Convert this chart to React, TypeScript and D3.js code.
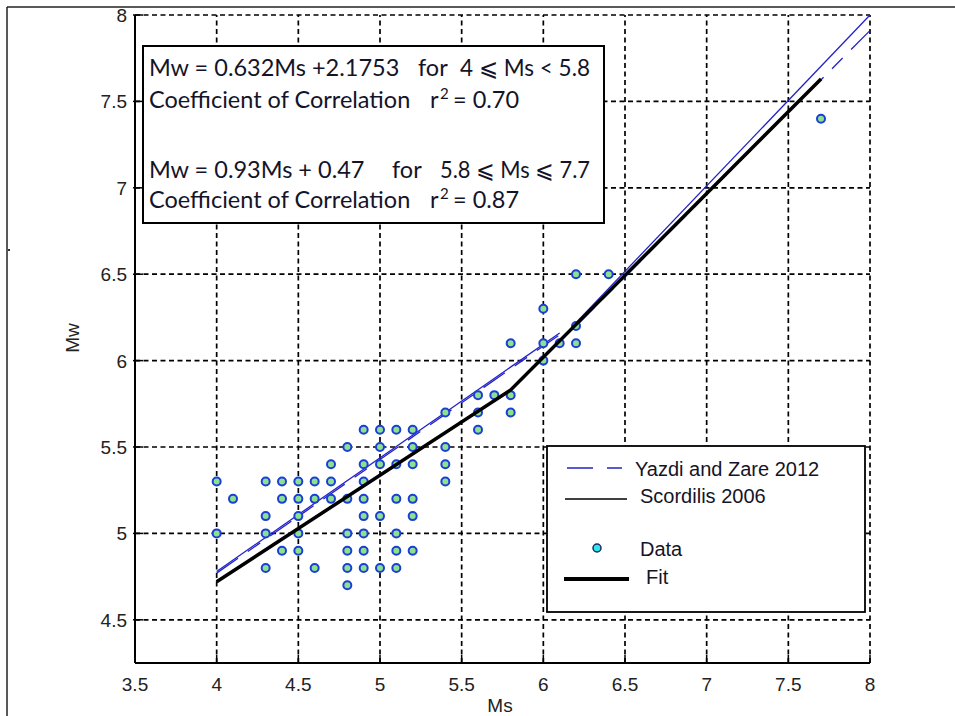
import React from "react";
import * as d3 from "d3";

const W = 955;
const H = 716;

// Tick values
const xTicks = [3.5, 4, 4.5, 5, 5.5, 6, 6.5, 7, 7.5, 8];
const yTicks = [4.5, 5, 5.5, 6, 6.5, 7, 7.5, 8];

// Data points (Ms, Mw)
const dataMs = [
  4.0, 4.0,
  4.1,
  4.3, 4.3, 4.3, 4.3,
  4.4, 4.4, 4.4,
  4.5, 4.5, 4.5, 4.5, 4.5,
  4.6, 4.6, 4.6,
  4.7, 4.7, 4.7,
  4.8, 4.8, 4.8, 4.8, 4.8, 4.8,
  4.9, 4.9, 4.9, 4.9, 4.9, 4.9, 4.9, 4.9,
  5.0, 5.0, 5.0, 5.0, 5.0,
  5.1, 5.1, 5.1, 5.1, 5.1, 5.1,
  5.2, 5.2, 5.2, 5.2, 5.2, 5.2,
  5.4, 5.4, 5.4, 5.4,
  5.6, 5.6, 5.6,
  5.7,
  5.8, 5.8, 5.8,
  6.0, 6.0, 6.0,
  6.1,
  6.2, 6.2, 6.2,
  6.4,
  7.7,
];
const dataMw = [
  5.3, 5.0,
  5.2,
  5.3, 5.1, 5.0, 4.8,
  5.3, 5.2, 4.9,
  5.3, 5.2, 5.1, 5.0, 4.9,
  5.3, 5.2, 4.8,
  5.4, 5.3, 5.2,
  5.5, 5.2, 5.0, 4.9, 4.8, 4.7,
  5.6, 5.4, 5.3, 5.2, 5.1, 5.0, 4.9, 4.8,
  5.6, 5.5, 5.4, 5.1, 4.8,
  5.6, 5.4, 5.2, 5.0, 4.9, 4.8,
  5.6, 5.5, 5.4, 5.2, 5.1, 4.9,
  5.7, 5.5, 5.4, 5.3,
  5.8, 5.7, 5.6,
  5.8,
  6.1, 5.8, 5.7,
  6.3, 6.1, 6.0,
  6.1,
  6.5, 6.2, 6.1,
  6.5,
  7.4,
];

// Fit (thick black), piecewise
const fitMs = [4, 5.8, 7.7];
const fitMw = [4.72, 5.83, 7.63];

// Scordilis 2006 (thin), two segments
const scorLowMs = [4, 6.1];
const scorLowMw = [4.78, 6.16];
const scorHighMs = [6.2, 8];
const scorHighMw = [6.22, 8.0];

// Yazdi and Zare 2012 (blue dash-dot), two segments
const yazLowMs = [4, 6.1];
const yazLowMw = [4.77, 6.15];
const yazHighMs = [6.2, 8];
const yazHighMw = [6.2, 7.91];

const annotationLines = [
  { parts: ["Mw = 0.632Ms +2.1753", "for", "4 \u2A7D Ms < 5.8"] },
  { corr: "0.70" },
  { parts: ["Mw = 0.93Ms + 0.47", "for", "5.8 \u2A7D Ms \u2A7D 7.7"] },
  { corr: "0.87" },
];

const legendLabels = ["Yazdi and Zare 2012", "Scordilis 2006", "Data", "Fit"];

export default function App() {
  const x = d3.scaleLinear().domain([3.5, 8]).range([135, 870]);
  const y = d3.scaleLinear().domain([4.25, 8]).range([663, 15]);

  const line = d3
    .line<[number, number]>()
    .x((d) => x(d[0]))
    .y((d) => y(d[1]));
  const zip = (a: number[], b: number[]) => a.map((v, i) => [v, b[i]] as [number, number]);

  const gridDash = "5,3.5";
  const blue = "#2323c8";
  const axisFont = "'Liberation Sans', Arial, sans-serif";
  const boxFont = "Lato, 'Open Sans', sans-serif";

  const x0 = x(3.5);
  const x1 = x(8);
  const y0 = y(4.25);
  const y1 = y(8);

  return (
    <svg
      width={W}
      height={H}
      style={{ position: "absolute", left: 0, top: 0, background: "#fff" }}
    >
      {/* outer frame */}
      <line x1={7} y1={7} x2={W} y2={7} stroke="#222" strokeWidth={1.5} />
      <line x1={7} y1={7} x2={7} y2={H} stroke="#222" strokeWidth={1.5} />
      <rect x={8} y={249} width={2} height={2} fill="#333" />

      {/* grid */}
      {xTicks.slice(1).map((t) => (
        <line key={"gx" + t} x1={x(t)} x2={x(t)} y1={y0} y2={y1} stroke="#000" strokeWidth={1.7} strokeDasharray={gridDash} />
      ))}
      {yTicks.map((t) => (
        <line key={"gy" + t} x1={x0} x2={x1} y1={y(t)} y2={y(t)} stroke="#000" strokeWidth={1.7} strokeDasharray={gridDash} />
      ))}

      {/* axes */}
      <line x1={x0} x2={x0} y1={y1} y2={y0} stroke="#000" strokeWidth={2} />
      <line x1={x0} x2={x1} y1={y0} y2={y0} stroke="#000" strokeWidth={2} />
      {xTicks.map((t) => (
        <g key={"tx" + t}>
          <line x1={x(t)} x2={x(t)} y1={y0} y2={y0 - 8} stroke="#000" strokeWidth={1.5} />
          <text x={x(t)} y={y0 + 28} textAnchor="middle" fontFamily={axisFont} fontSize={19} fill="#222">
            {t}
          </text>
        </g>
      ))}
      {yTicks.map((t) => (
        <g key={"ty" + t}>
          <line x1={x0 - 2} x2={x0 + 8} y1={y(t)} y2={y(t)} stroke="#000" strokeWidth={1.5} />
          <text x={x0 - 8} y={y(t) + 7} textAnchor="end" fontFamily={axisFont} fontSize={19} fill="#222">
            {t}
          </text>
        </g>
      ))}
      <text x={500} y={712} textAnchor="middle" fontFamily={axisFont} fontSize={19} fill="#222">
        Ms
      </text>
      <text
        transform={`translate(79,338) rotate(-90)`}
        textAnchor="middle"
        fontFamily={axisFont}
        fontSize={19}
        fill="#222"
      >
        Mw
      </text>

      {/* lines */}
      <path d={line(zip(scorLowMs, scorLowMw)) || ""} fill="none" stroke={blue} strokeWidth={1.3} />
      <path d={line(zip(scorHighMs, scorHighMw)) || ""} fill="none" stroke={blue} strokeWidth={1.3} />
      <path d={line(zip(yazLowMs, yazLowMw)) || ""} fill="none" stroke={blue} strokeWidth={1.3} strokeDasharray="26,12,15,12" />
      <path d={line(zip(yazHighMs, yazHighMw)) || ""} fill="none" stroke={blue} strokeWidth={1.3} strokeDasharray="26,12,15,12" />

      {/* data */}
      {dataMs.map((m, i) => (
        <circle key={"p" + i} cx={x(m)} cy={y(dataMw[i])} r={4} fill="#8ee08e" stroke="#1a3fd6" strokeWidth={2} />
      ))}

      <path d={line(zip(fitMs, fitMw)) || ""} fill="none" stroke="#000" strokeWidth={3.5} />
      <path d={line(zip(fitMs, fitMw)) || ""} fill="none" stroke="#000" strokeWidth={1.2} />

      {/* annotation box */}
      <rect x={143} y={46} width={461} height={177} fill="#fff" stroke="#000" strokeWidth={2} />
      <g fontFamily={boxFont} fontSize={23.5} fill="#141428">
        <text y={76}>
          <tspan x={149}>{annotationLines[0].parts![0]}</tspan>
          <tspan x={418}>{annotationLines[0].parts![1]}</tspan>
        </text>
        <text y={76} x={460} textLength={130} lengthAdjust="spacingAndGlyphs">
          {annotationLines[0].parts![2]}
        </text>
        <text y={108}>
          <tspan x={149}>Coefficient of Correlation</tspan>
          <tspan x={430}>r</tspan>
          <tspan x={440} dy={-9} fontSize={15}>2</tspan>
          <tspan x={453} dy={9}>{"= " + annotationLines[1].corr}</tspan>
        </text>
        <text y={178}>
          <tspan x={149}>{annotationLines[2].parts![0]}</tspan>
          <tspan x={392}>{annotationLines[2].parts![1]}</tspan>
        </text>
        <text y={178} x={440} textLength={150} lengthAdjust="spacingAndGlyphs">
          {annotationLines[2].parts![2]}
        </text>
        <text y={208}>
          <tspan x={149}>Coefficient of Correlation</tspan>
          <tspan x={430}>r</tspan>
          <tspan x={440} dy={-9} fontSize={15}>2</tspan>
          <tspan x={453} dy={9}>{"= " + annotationLines[3].corr}</tspan>
        </text>
      </g>

      {/* legend */}
      <rect x={547} y={446} width={318} height={166} fill="#fff" stroke="#000" strokeWidth={1.8} />
      <line x1={567} x2={622} y1={468} y2={468} stroke={blue} strokeWidth={1.5} strokeDasharray="26,14,15" />
      <line x1={565} x2={627} y1={499} y2={499} stroke="#000" strokeWidth={1.5} />
      <circle cx={597} cy={548} r={4} fill="#2ee6e6" stroke="#1a2a6a" strokeWidth={1.5} />
      <line x1={564} x2={629} y1={579} y2={579} stroke="#000" strokeWidth={4} />
      <g fontFamily={axisFont} fontSize={20} fill="#141428">
        <text x={635} y={476}>{legendLabels[0]}</text>
        <text x={640} y={503}>{legendLabels[1]}</text>
        <text x={640} y={556}>{legendLabels[2]}</text>
        <text x={646} y={584}>{legendLabels[3]}</text>
      </g>
    </svg>
  );
}
